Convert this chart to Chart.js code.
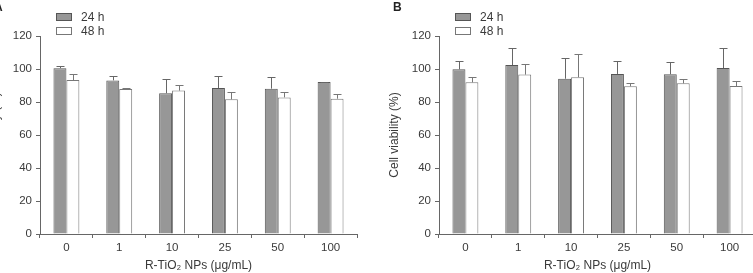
<!DOCTYPE html>
<html>
<head>
<meta charset="utf-8">
<script src="https://cdn.jsdelivr.net/npm/chart.js@4.4.1/dist/chart.umd.min.js"></script>
<style>
  html, body { margin: 0; padding: 0; background: #fff; overflow: hidden; }
  body { width: 753px; height: 273px; position: relative; }
  .panel { position: absolute; top: 0; width: 390px; height: 273px; }
</style>
</head>
<body>
<div class="panel" style="left:-19px"><canvas id="chartA"></canvas></div>
<div class="panel" style="left:380px"><canvas id="chartB"></canvas></div>
<script>
// data
var categories = ['0', '1', '10', '25', '50', '100'];
var seriesLabels = ['24 h', '48 h'];
var panelLabels = ['A', 'B'];
var yTicks = [0, 20, 40, 60, 80, 100, 120];

var a24 = [100.5, 93.1, 85.3, 88.5, 88.1, 92.1];
var a24err = [1.2, 2.5, 8.4, 7.3, 6.9, 0.3];
var a48 = [93.3, 87.9, 86.9, 81.6, 82.8, 82.0];
var a48err = [3.8, 0.8, 3.2, 4.6, 3.4, 2.6];

var b24 = [99.8, 102.4, 94.1, 97.0, 96.8, 100.6];
var b24err = [5.2, 10.1, 12.3, 8.0, 7.4, 12.3];
var b48 = [91.9, 96.6, 95.0, 89.5, 91.3, 89.7];
var b48err = [3.1, 6.6, 14.3, 2.0, 2.6, 3.2];

var xTitle = 'R-TiO\u2082 NPs (\u03bcg/mL)';
var yTitle = 'Cell viability (%)';

var FONT = '"Liberation Sans", Arial, sans-serif';
var TEXT = '#3a3a3a';
var AXIS = '#666';

// upward error bars with a cap
const errorBars = {
    id: 'errorBars',
    afterDatasetsDraw(chart) {
        const ctx = chart.ctx;
        const y = chart.scales.y;
        chart.data.datasets.forEach((ds, i) => {
            const meta = chart.getDatasetMeta(i);
            meta.data.forEach((bar, j) => {
                const top = y.getPixelForValue(ds.data[j] + ds.errors[j]);
                const x = Math.round(bar.x) + 0.5;
                ctx.save();
                ctx.strokeStyle = ds.errColor;
                ctx.lineWidth = 1;
                ctx.beginPath();
                ctx.moveTo(x, bar.y);
                ctx.lineTo(x, Math.round(top) + 0.5);
                ctx.moveTo(x - 4, Math.round(top) + 0.5);
                ctx.lineTo(x + 4, Math.round(top) + 0.5);
                ctx.stroke();
                ctx.restore();
            });
        });
    }
};

// legend stacked above the plot + panel letter
const sideLegend = {
    id: 'sideLegend',
    afterDraw(chart, args, opts) {
        const ctx = chart.ctx;
        const left = chart.chartArea.left;
        ctx.save();
        chart.data.datasets.forEach((ds, i) => {
            const by = 13 + i * 14;
            ctx.fillStyle = ds.backgroundColor;
            ctx.fillRect(left + 16, by, 16, 8);
            ctx.strokeStyle = ds.borderColor;
            ctx.lineWidth = 1;
            ctx.strokeRect(left + 16.5, by + 0.5, 15, 7);
            ctx.fillStyle = TEXT;
            ctx.font = '12px ' + FONT;
            ctx.textBaseline = 'middle';
            ctx.textAlign = 'left';
            ctx.fillText(ds.label, left + 41, by + 4.5);
        });
        ctx.font = 'bold 12px ' + FONT;
        ctx.textBaseline = 'top';
        ctx.fillStyle = '#222';
        ctx.fillText(opts.letter, 13, 2);
        ctx.restore();
    }
};

function makeChart(id, letter, v24, e24, v48, e48) {
    return new Chart(id, {
        type: 'bar',
        data: {
            labels: categories,
            datasets: [{
                label: seriesLabels[0],
                data: v24,
                errors: e24,
                backgroundColor: '#979797',
                borderColor: '#555',
                errColor: '#666',
                borderWidth: 1
            }, {
                label: seriesLabels[1],
                data: v48,
                errors: e48,
                backgroundColor: '#fff',
                borderColor: '#777',
                errColor: '#777',
                borderWidth: 1
            }]
        },
        options: {
            responsive: false,
            animation: false,
            devicePixelRatio: 1,
            layout: { padding: { top: 36, right: 14, left: 0, bottom: 0 } },
            datasets: { bar: { barPercentage: 1, categoryPercentage: 0.49 } },
            plugins: {
                legend: { display: false },
                tooltip: { enabled: false },
                sideLegend: { letter: letter }
            },
            scales: {
                x: {
                    grid: { drawOnChartArea: false, tickLength: 4, color: AXIS, offset: true },
                    border: { color: AXIS },
                    ticks: { color: TEXT, font: { family: FONT, size: 11.5 }, padding: 3, maxRotation: 0 },
                    title: { display: true, text: xTitle, color: TEXT, font: { family: FONT, size: 12 }, padding: { top: 0, bottom: 0 } },
                    afterFit(s) { s.height = 39; }
                },
                y: {
                    min: yTicks[0],
                    max: yTicks[yTicks.length - 1],
                    afterBuildTicks(s) { s.ticks = yTicks.map(v => ({ value: v })); },
                    grid: { drawOnChartArea: false, tickLength: 4, color: AXIS },
                    border: { color: AXIS },
                    ticks: { color: TEXT, font: { family: FONT, size: 11.5 }, padding: 4 },
                    title: { display: true, text: yTitle, color: TEXT, font: { family: FONT, size: 12 }, padding: { top: 7, bottom: 0 } },
                    afterFit(s) { s.width = 59; }
                }
            }
        },
        plugins: [errorBars, sideLegend]
    });
}

var canvasA = document.getElementById('chartA');
var canvasB = document.getElementById('chartB');
[canvasA, canvasB].forEach(c => { c.width = 390; c.height = 273; });

makeChart(canvasA, panelLabels[0], a24, a24err, a48, a48err);
makeChart(canvasB, panelLabels[1], b24, b24err, b48, b48err);
</script>
</body>
</html>
